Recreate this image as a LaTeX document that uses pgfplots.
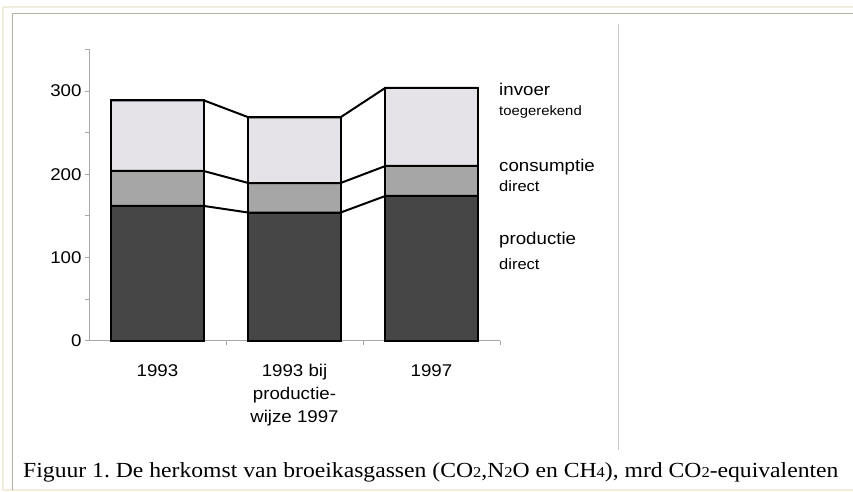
\documentclass[border=0pt]{standalone}
\usepackage{fontspec}
\setmainfont{Liberation Serif}
\newfontfamily\arial{Liberation Sans}
\usepackage{pgfplots}
\pgfplotsset{compat=1.18}
\definecolor{darkbar}{HTML}{464646}
\definecolor{midbar}{HTML}{A6A6A6}
\definecolor{lightbar}{HTML}{E5E3E7}
\definecolor{axisgray}{HTML}{A8A8A8}
\definecolor{frameLight}{HTML}{F1EDDC}
\definecolor{frameGray}{HTML}{B3AFA3}
\definecolor{vline}{HTML}{C8C8C8}
\newcommand\sub[1]{{\fontsize{15}{15}\selectfont #1}}
\newcommand\sx[1]{\scalebox{1.1}[1]{#1}}
\frenchspacing
\begin{document}
\begin{tikzpicture}[x=1pt,y=1pt]
\useasboundingbox (0,0) rectangle (853,492);
\fill[white] (0,0) rectangle (853,492);
% frame
\draw[frameLight, line width=1.5pt] (3,485) -- (853,485);
\draw[frameLight, line width=1.5pt] (3,2) -- (3,485);
\draw[frameLight, line width=1.5pt] (3,2) -- (853,2);
\draw[frameGray, line width=1.5pt] (12.5,478.5) -- (853,478.5);
\draw[frameGray, line width=1.5pt] (12.5,2) -- (12.5,478.5);
\draw[vline, line width=1.2pt] (618.5,468) -- (618.5,42);

\begin{axis}[
  at={(89pt,151.3pt)}, anchor=south west, scale only axis,
  width=411pt, height=291.2pt,
  xmin=-0.5, xmax=2.5, ymin=0, ymax=350,
  axis x line=bottom, axis y line=left,
  axis line style={-, draw=axisgray, line width=0.8pt},
  xtick={0.5,1.5,2.5}, xticklabels={},
  extra x ticks={0,1,2},
  extra x tick labels={\strut\sx{1993},{\strut\sx{1993 bij}\\\sx{productie-}\\\sx{wijze 1997}},\strut\sx{1997}},
  extra x tick style={major tick length=0pt},
  xticklabel style={align=center, font=\arial\fontsize{17}{23}\selectfont, yshift=-16pt},
  ytick={0,100,200,300}, minor ytick={50,150,250,350},
  tick align=outside, major tick length=4pt, minor tick length=4pt,
  every tick/.style={draw=axisgray, line width=0.8pt},
  yticklabel style={font=\arial\fontsize{17}{19}\selectfont},
  yticklabel={\sx{\pgfmathprintnumber{\tick}}},
  /pgf/number format/assume math mode=true,
  clip=false,
]
% cumulative heights (total, production+consumption, production)
\addplot[ybar, bar width=0.672, bar shift=0pt, fill=lightbar, draw=black, line width=2pt]
  coordinates {(0,289) (1,268.5) (2,304)};
\addplot[ybar, bar width=0.672, bar shift=0pt, fill=midbar, draw=black, line width=2pt]
  coordinates {(0,204) (1,189.5) (2,210)};
\addplot[ybar, bar width=0.672, bar shift=0pt, fill=darkbar, draw=black, line width=2pt]
  coordinates {(0,162) (1,154) (2,174)};
% connectors
\addplot[black, line width=2pt, mark=none]
  coordinates {(-0.336,289) (0.336,289) (0.664,268.5) (1.336,268.5) (1.664,304) (2.336,304)};
\addplot[black, line width=2pt, mark=none]
  coordinates {(-0.336,204) (0.336,204) (0.664,189.5) (1.336,189.5) (1.664,210) (2.336,210)};
\addplot[black, line width=2pt, mark=none]
  coordinates {(-0.336,162) (0.336,162) (0.664,154) (1.336,154) (1.664,174) (2.336,174)};
\end{axis}

\begin{scope}[every node/.style={anchor=base west, inner sep=0pt}]
\node[font=\arial\fontsize{17}{18}\selectfont] at (499,396.3) {\sx{invoer}};
\node[font=\arial\fontsize{13.5}{15}\selectfont] at (499,376) {\sx{toegerekend}};
\node[font=\arial\fontsize{17}{18}\selectfont] at (499,320.3) {\sx{consumptie}};
\node[font=\arial\fontsize{15}{16}\selectfont] at (499,300.3) {\sx{direct}};
\node[font=\arial\fontsize{17}{18}\selectfont] at (499,247) {\sx{productie}};
\node[font=\arial\fontsize{15}{16}\selectfont] at (499,222) {\sx{direct}};
\node[font=\fontsize{21.5}{24}\selectfont] at (23,14)
  {\scalebox{1.1}[1]{Figuur 1. De herkomst van broeikasgassen (CO\sub{2},N\sub{2}O en CH\sub{4}), mrd CO\sub{2}-equivalenten}};
\end{scope}
\end{tikzpicture}
\end{document}
